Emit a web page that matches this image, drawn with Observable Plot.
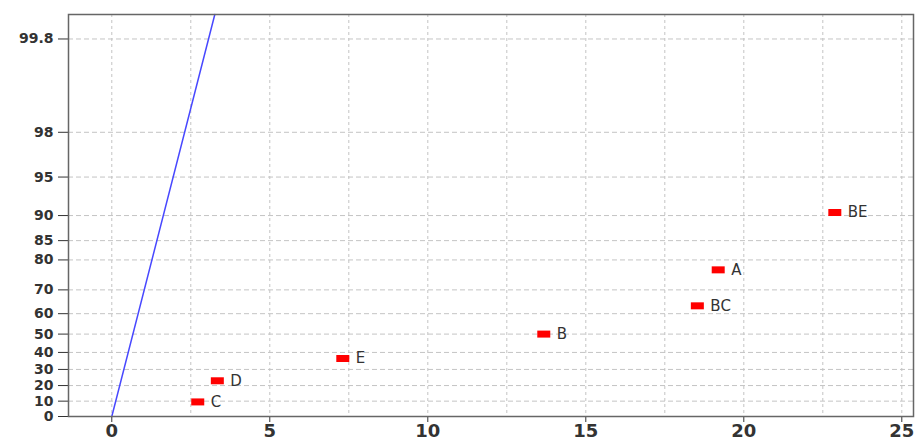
<!DOCTYPE html>
<html>
<head>
<meta charset="utf-8">
<script src="https://cdn.jsdelivr.net/npm/d3@7"></script>
<script src="https://cdn.jsdelivr.net/npm/@observablehq/plot@0.6"></script>
<style>
  body { margin: 0; background: #fff; }
  #chart svg { display: block; }
</style>
</head>
<body>
<div id="chart"></div>
<script>
// Half-normal probability plot of absolute effects
const effects = ["C", "D", "E", "B", "BC", "A", "BE"];
const absEffect = [2.72, 3.34, 7.31, 13.67, 18.53, 19.19, 22.88];
const probability = [9.5, 23.0, 36.5, 50.0, 63.5, 77.0, 90.5]; // percent
const probTicks = [0, 10, 20, 30, 40, 50, 60, 70, 80, 85, 90, 95, 98, 99.8];
const effectTicks = [0, 5, 10, 15, 20, 25];
const effectGrid = [0, 2.5, 5, 7.5, 10, 12.5, 15, 17.5, 20, 22.5, 25];
const refLineEffect = [0, 3.26];
const refLineProb = [0, 99.9];
const probMax = 99.9;

// Inverse standard normal CDF (Acklam's rational approximation)
function normInv(p) {
  const a = [-3.969683028665376e+01, 2.209460984245205e+02, -2.759285104469687e+02,
             1.383577518672690e+02, -3.066479806614716e+01, 2.506628277459239e+00];
  const b = [-5.447609879822406e+01, 1.615858368580409e+02, -1.556989798598866e+02,
             6.680131188771972e+01, -1.328068155288572e+01];
  const c = [-7.784894002430293e-03, -3.223964580411365e-01, -2.400758277161838e+00,
             -2.549671010431225e+00, 4.374664141464968e+00, 2.938163982698783e+00];
  const d = [7.784695709041462e-03, 3.224671290700398e-01, 2.445134137142996e+00,
             3.754408661907416e+00];
  const pl = 0.02425, ph = 1 - pl;
  let q, r;
  if (p < pl) {
    q = Math.sqrt(-2 * Math.log(p));
    return (((((c[0]*q+c[1])*q+c[2])*q+c[3])*q+c[4])*q+c[5]) /
           ((((d[0]*q+d[1])*q+d[2])*q+d[3])*q+1);
  }
  if (p <= ph) {
    q = p - 0.5; r = q * q;
    return (((((a[0]*r+a[1])*r+a[2])*r+a[3])*r+a[4])*r+a[5])*q /
           (((((b[0]*r+b[1])*r+b[2])*r+b[3])*r+b[4])*r+1);
  }
  q = Math.sqrt(-2 * Math.log(1 - p));
  return -(((((c[0]*q+c[1])*q+c[2])*q+c[3])*q+c[4])*q+c[5]) /
          ((((d[0]*q+d[1])*q+d[2])*q+d[3])*q+1);
}
// percent -> half-normal quantile
const hn = (pct) => pct <= 0 ? 0 : normInv(0.5 + pct / 200);

const points = effects.map((name, i) => ({name, x: absEffect[i], p: probability[i]}));
const refLine = refLineEffect.map((x, i) => ({x, p: refLineProb[i]}));
const tickLabel = new Map(probTicks.map(p => [hn(p), String(p)]));

const rectSymbol = {
  draw(ctx) { ctx.rect(-6.5, -3.5, 13, 7); }
};

const font = "DejaVu Sans, Verdana, sans-serif";

const chart = Plot.plot({
  width: 917,
  height: 443,
  marginLeft: 68,
  marginRight: 4,
  marginTop: 14,
  marginBottom: 27,
  style: {fontFamily: font, background: "#fff"},
  x: {domain: [-1.37, 25.37]},
  y: {domain: [0, hn(probMax)]},
  marks: [
    Plot.ruleX(effectGrid, {x: d => d, stroke: "#c4c4c4", strokeDasharray: "3,3", strokeWidth: 1}),
    Plot.ruleY(probTicks, {y: d => hn(d), stroke: "#c4c4c4", strokeDasharray: "5,3", strokeWidth: 1}),
    Plot.line(refLine, {x: "x", y: d => hn(d.p), stroke: "#4848ff", strokeWidth: 1.5}),
    Plot.dot(points, {x: "x", y: d => hn(d.p), symbol: rectSymbol, fill: "#ff0000", stroke: null, r: 4}),
    Plot.text(points, {x: "x", y: d => hn(d.p), text: "name", dx: 13, textAnchor: "start",
      fontSize: 15, fill: "#333"}),
    Plot.axisX(effectTicks, {tickSize: 6, tickPadding: 2, fontSize: 18, fontWeight: "bold",
      color: "#333", label: null}),
    Plot.axisY(probTicks.map(hn), {tickSize: 10, tickPadding: 5, fontSize: 14, fontWeight: "bold",
      color: "#333", tickFormat: z => tickLabel.get(z), label: null}),
    Plot.frame({stroke: "#666", strokeWidth: 1.5})
  ]
});

document.getElementById("chart").append(chart);
</script>
</body>
</html>
